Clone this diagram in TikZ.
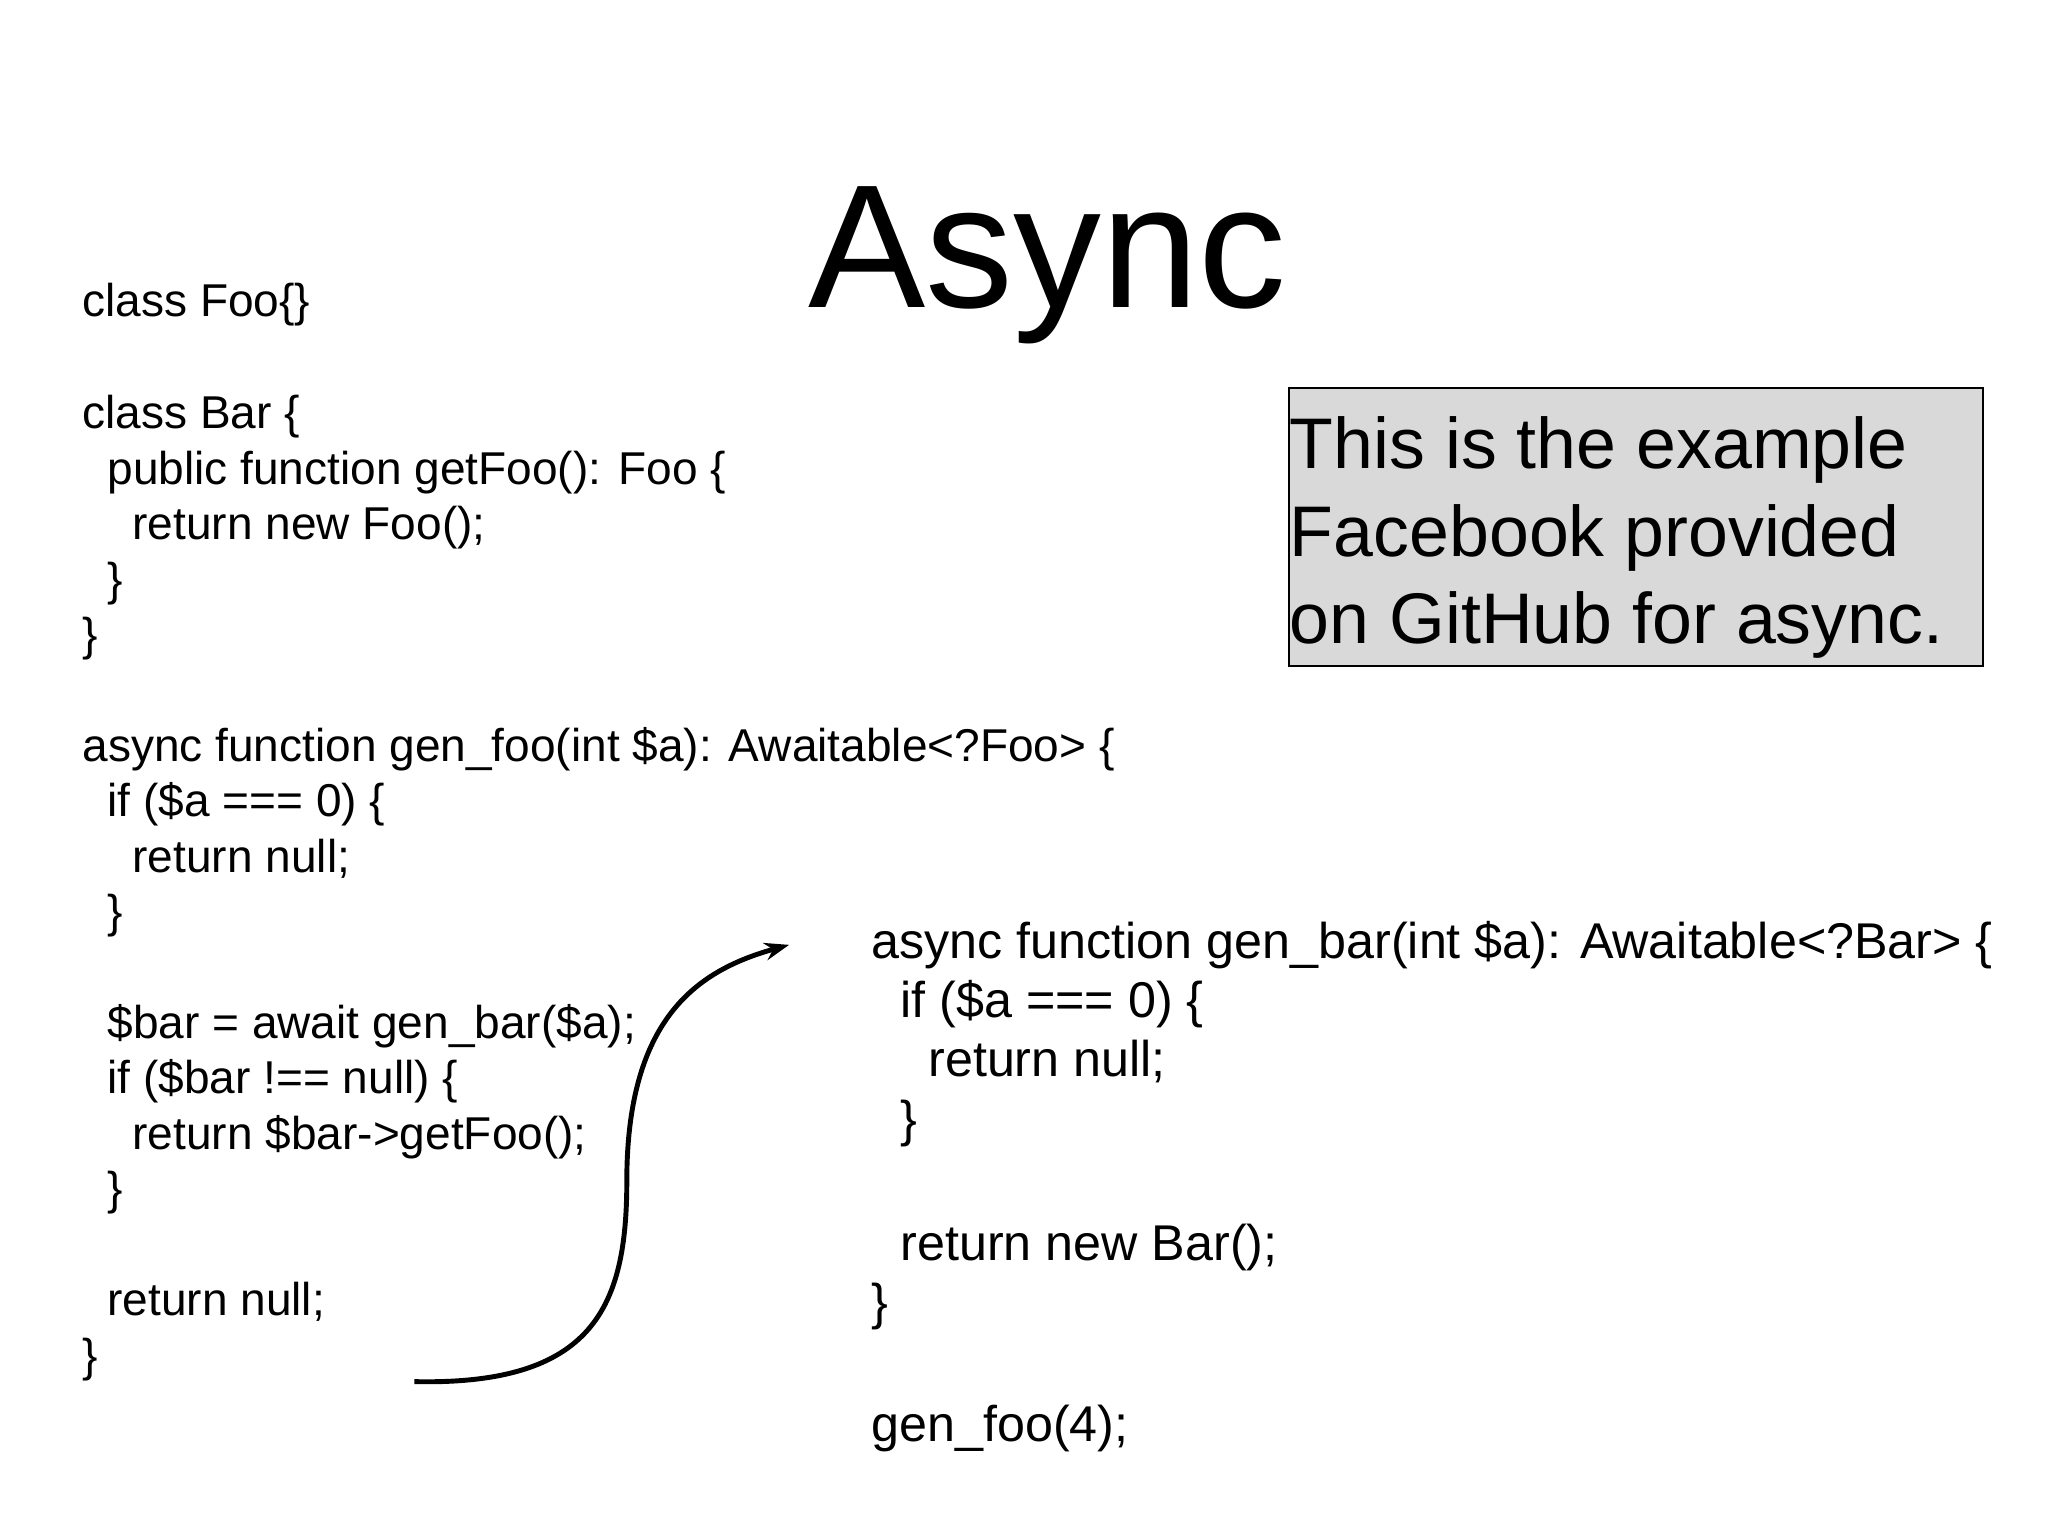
\documentclass[tikz,border=0pt]{standalone}
\usepackage{fontspec}
\setmainfont{Liberation Sans}
\usetikzlibrary{arrows.meta}
\begin{document}
\begin{tikzpicture}[x=0.0132cm,y=-0.0132cm,
  codeL/.style={anchor=base west,inner sep=0pt,font=\fontsize{13.1pt}{15pt}\selectfont},
  codeR/.style={anchor=base west,inner sep=0pt,font=\fontsize{14.3pt}{16pt}\selectfont},
  boxtext/.style={anchor=base west,inner sep=0pt,font=\fontsize{20.4pt}{23pt}\selectfont}]
\useasboundingbox (0,0) rectangle (1552,1164);
\node[anchor=base west,inner sep=0pt,font=\fontsize{50pt}{56pt}\selectfont] (title) at (612,233) {Async};
% left code
\node[codeL] (l1) at (62,240) {class Foo\{\}};
\node[codeL] (l2) at (62,325) {class Bar \{};
\node[codeL] (l3) at (81,367) {public function getFoo(): Foo \{};
\node[codeL] (l4) at (100,409) {return new Foo();};
\node[codeL] (l5) at (81,451) {\}};
\node[codeL] (l6) at (62,493) {\}};
\node[codeL] (l7) at (62,577) {async function gen\_foo(int \$a): Awaitable<?Foo> \{};
\node[codeL] (l8) at (81,619) {if (\$a === 0) \{};
\node[codeL] (l9) at (100,661) {return null;};
\node[codeL] (l10) at (81,703) {\}};
\node[codeL] (l11) at (81,787) {\$bar = await gen\_bar(\$a);};
\node[codeL] (l12) at (81,829) {if (\$bar !== null) \{};
\node[codeL] (l13) at (100,871) {return \$bar->getFoo();};
\node[codeL] (l14) at (81,913) {\}};
\node[codeL] (l15) at (81,997) {return null;};
\node[codeL] (l16) at (62,1039) {\}};
% right code
\node[codeR] (r1) at (660,726) {async function gen\_bar(int \$a): Awaitable<?Bar> \{};
\node[codeR] (r2) at (682,771) {if (\$a === 0) \{};
\node[codeR] (r3) at (703,816) {return null;};
\node[codeR] (r4) at (682,861) {\}};
\node[codeR] (r5) at (682,955) {return new Bar();};
\node[codeR] (r6) at (660,1000) {\}};
\node[codeR] (r7) at (660,1092) {gen\_foo(4);};
% box
\draw[fill=black!15,line width=0.6pt] (977,294) rectangle (1503,505);
\node[boxtext] (b1) at (977,355) {This is the example};
\node[boxtext] (b2) at (977,422) {Facebook provided};
\node[boxtext] (b3) at (977,488) {on GitHub for async.};
% arrow
\coordinate (s) at (314,1047);
\coordinate (m) at (475,895);
\coordinate (e) at (598,716);
\draw[line width=1.4pt,-{Stealth[length=7pt,width=5pt]}] (s) .. controls (450,1050) and (475,990) .. (m) .. controls (475,770) and (530,735) .. (e);
\end{tikzpicture}
\end{document}
